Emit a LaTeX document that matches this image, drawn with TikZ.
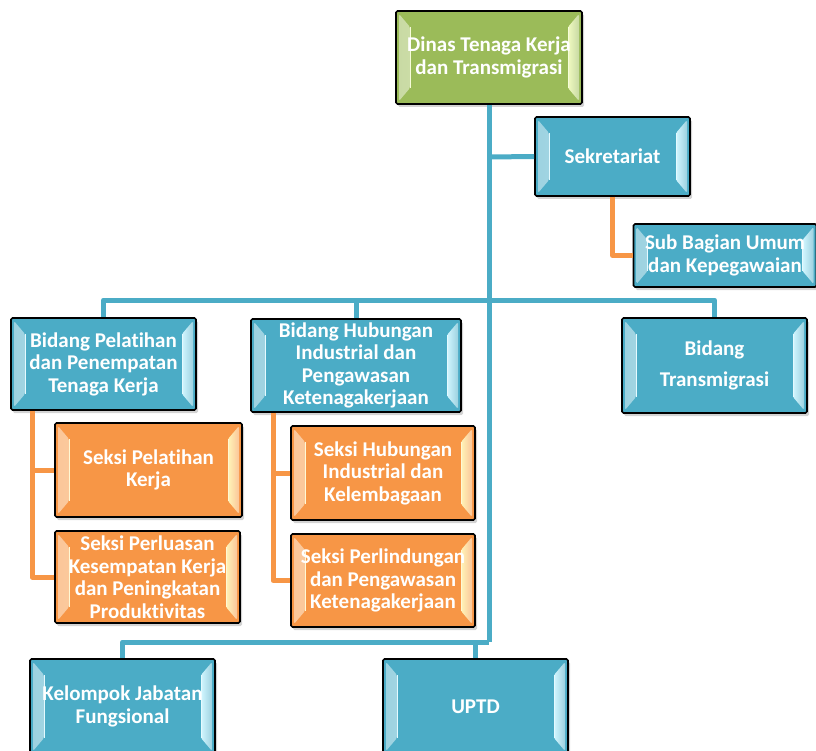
\documentclass[tikz,border=0pt]{standalone}
\usepackage{fontspec}
\setmainfont{Carlito}[Ligatures=CommonOff]
\usetikzlibrary{shadows,calc}
\definecolor{blu}{HTML}{4BACC6}
\definecolor{blulight}{HTML}{D2F6FF}
\definecolor{org}{HTML}{F79646}
\definecolor{orglight}{HTML}{FFF4B8}
\definecolor{grn}{HTML}{9BBB59}
\definecolor{grnlight}{HTML}{F0FAC0}
\newcommand\mybevel[2]{%
  \fill[left color=#2!55!white, right color=#1]
    ($(path picture bounding box.north west)+(3pt,-3pt)$) --
    ($(path picture bounding box.north west)+(14pt,-16pt)$) --
    ($(path picture bounding box.south west)+(14pt,16pt)$) --
    ($(path picture bounding box.south west)+(3pt,3pt)$) -- cycle;
  \fill[left color=#1, right color=#2!55!white]
    ($(path picture bounding box.north east)+(-3pt,-3pt)$) --
    ($(path picture bounding box.north east)+(-14pt,-16pt)$) --
    ($(path picture bounding box.south east)+(-14pt,16pt)$) --
    ($(path picture bounding box.south east)+(-3pt,3pt)$) -- cycle;
  \draw[#1!60!white, line width=0.8pt]
    ($(path picture bounding box.north west)+(14pt,-16pt)$) --
    ($(path picture bounding box.south west)+(14pt,16pt)$)
    ($(path picture bounding box.north east)+(-14pt,-16pt)$) --
    ($(path picture bounding box.south east)+(-14pt,16pt)$);
}
\tikzset{
  box/.style={draw=black, line width=1.6pt, rounded corners=1.5pt, text=white,
    font=\bfseries\fontsize{21}{22.5}\selectfont, align=center, inner sep=0pt,
    drop shadow={shadow xshift=2pt, shadow yshift=-3pt, opacity=0.35}},
  bluebox/.style={box, fill=blu, path picture={\mybevel{blulight}{blu}}},
  orgbox/.style={box, fill=org, path picture={\mybevel{orglight}{org}}},
  grnbox/.style={box, fill=grn, path picture={\mybevel{grnlight}{grn}}},
  bl/.style={draw=blu, line width=5pt, line join=round},
  orl/.style={draw=org, line width=5pt, line join=round},
}
\begin{document}
\begin{tikzpicture}[x=1pt,y=-1pt]
\useasboundingbox (0,0) rectangle (816,751);
% nodes
\node[grnbox, minimum width=186pt, minimum height=93pt] (dinas) at (489,57.5) {Dinas Tenaga Kerja\\dan Transmigrasi};
\node[bluebox, minimum width=155pt, minimum height=79pt] (sek) at (612.5,156.5) {Sekretariat};
\node[bluebox, minimum width=183pt, minimum height=63pt] (sub) at (725,255.5) {Sub Bagian Umum\\dan Kepegawaian};
\node[bluebox, minimum width=185pt, minimum height=92pt] (bp) at (103.5,364) {Bidang Pelatihan\\dan Penempatan\\Tenaga Kerja};
\node[bluebox, minimum width=210pt, minimum height=93pt] (bh) at (356,365.5) {Bidang Hubungan\\Industrial dan\\Pengawasan\\Ketenagakerjaan};
\node[bluebox, minimum width=185pt, minimum height=95pt] (bt) at (714.5,365.5) {Bidang\\[9pt]Transmigrasi};
\node[orgbox, minimum width=187pt, minimum height=94pt] (sp) at (148.5,470) {Seksi Pelatihan\\Kerja};
\node[orgbox, minimum width=185pt, minimum height=92pt] (spk) at (147.5,577) {Seksi Perluasan\\Kesempatan Kerja\\dan Peningkatan\\Produktivitas};
\node[orgbox, minimum width=184pt, minimum height=94pt] (shi) at (383,473) {Seksi Hubungan\\Industrial dan\\Kelembagaan};
\node[orgbox, minimum width=184pt, minimum height=93pt] (spl) at (383,580.5) {Seksi Perlindungan\\dan Pengawasan\\Ketenagakerjaan};
\node[bluebox, minimum width=185pt, minimum height=95pt] (kjf) at (122.5,706.5) {Kelompok Jabatan\\Fungsional};
\node[bluebox, minimum width=185pt, minimum height=95pt] (uptd) at (475.5,706.5) {UPTD};
% junctions
\coordinate (j1) at (489,157);
\coordinate (j2) at (489,300);
\coordinate (j3) at (489,642);
\coordinate (o1) at (32,0);
\coordinate (o2) at (273,0);
% blue connectors
\draw[bl] (dinas.south) -- (j3);
\draw[bl] (j1) -- (sek.west);
\draw[bl] (bp.north) |- (bt.north |- j2) -- (bt.north);
\draw[bl] (bh.north) -- (bh.north |- j2);
\draw[bl] (kjf.north) |- (j3);
\draw[bl] (uptd.north) -- (uptd.north |- j3);
% orange connectors
\draw[orl] (sek.south) |- (sub.west);
\draw[orl] (bp.south -| o1) |- (spk.west);
\draw[orl] (sp.west -| o1) -- (sp.west);
\draw[orl] (bh.south -| o2) |- (spl.west);
\draw[orl] (shi.west -| o2) -- (shi.west);
\end{tikzpicture}
\end{document}
